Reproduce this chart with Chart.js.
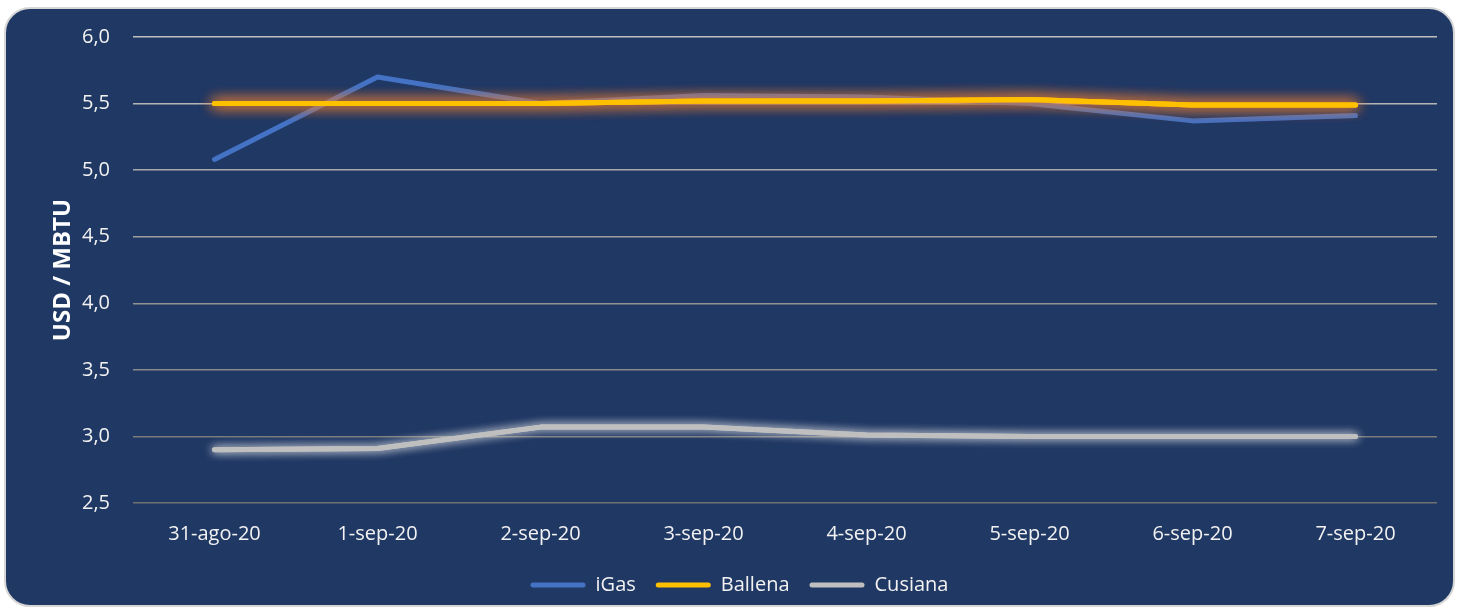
<!DOCTYPE html>
<html>
<head>
<meta charset="utf-8">
<script src="https://cdn.jsdelivr.net/npm/chart.js@4.4.1/dist/chart.umd.min.js"></script>
<style>
  html, body { margin: 0; padding: 0; background: #ffffff; width: 1460px; height: 611px; overflow: hidden; }
  #card { position: absolute; left: 4px; top: 7px; width: 1451px; height: 600px; background: #203864;
          border: 2px solid #d6d6d6; border-radius: 26px; box-sizing: border-box; }
  #wrap { position: absolute; left: 0; top: 0; width: 1460px; height: 611px; }
</style>
</head>
<body>
<div id="card"></div>
<div id="wrap"><canvas id="c" width="1460" height="611"></canvas></div>
<script>
const categories = ['31-ago-20', '1-sep-20', '2-sep-20', '3-sep-20', '4-sep-20', '5-sep-20', '6-sep-20', '7-sep-20'];
const iGas    = [5.08, 5.70, 5.50, 5.56, 5.55, 5.50, 5.37, 5.41];
const ballena = [5.50, 5.50, 5.50, 5.52, 5.52, 5.53, 5.49, 5.49];
const cusiana = [2.90, 2.91, 3.07, 3.07, 3.01, 3.00, 3.00, 3.00];
const yMin = 2.5, yMax = 6.0, yStep = 0.5;
const yTitle = 'USD / MBTU';

const FONT = "'Open Sans', 'Noto Sans', sans-serif";

const glowPlugin = {
  id: 'glow',
  beforeDatasetDraw(chart, args) {
    const ds = chart.data.datasets[args.index];
    const ctx = chart.ctx;
    ctx.save();
    if (ds.glowColor) {
      ctx.shadowColor = ds.glowColor;
      ctx.shadowBlur = ds.glowBlur || 10;
      ctx.shadowOffsetX = 0;
      ctx.shadowOffsetY = 0;
      // extra glow passes to intensify the halo
      for (let i = 1; i < (ds.glowPasses || 1); i++) {
        args.meta.controller.draw();
      }
    }
  },
  afterDatasetDraw(chart) {
    chart.ctx.restore();
  }
};

function gridColor(ctx) {
  const v = ctx.tick ? ctx.tick.value : yMin;
  const t = (v - yMin) / (yMax - yMin);
  const c = Math.round(112 + t * (192 - 112));
  return `rgb(${c},${c},${c})`;
}

new Chart(document.getElementById('c'), {
  type: 'line',
  data: {
    labels: categories,
    datasets: [
      { label: 'iGas', data: iGas, borderColor: '#4472C4', backgroundColor: '#4472C4', order: 3 },
      { label: 'Ballena', data: ballena, borderColor: '#FFC000', backgroundColor: '#FFC000', order: 2,
        glowColor: 'rgba(237,125,49,0.9)', glowBlur: 14, glowPasses: 3 },
      { label: 'Cusiana', data: cusiana, borderColor: '#BFBFBF', backgroundColor: '#BFBFBF', order: 1,
        glowColor: 'rgba(235,235,235,0.7)', glowBlur: 10, glowPasses: 2 }
    ]
  },
  options: {
    responsive: false,
    animation: false,
    devicePixelRatio: 1,
    datasets: {
      line: { borderWidth: 5, tension: 0, pointRadius: 0, pointHoverRadius: 0, fill: false,
              borderCapStyle: 'round', borderJoinStyle: 'round' }
    },
    layout: { padding: { left: 42, right: 23, top: 37, bottom: 6 } },
    scales: {
      x: {
        offset: true,
        grid: { display: false, drawTicks: false },
        border: { display: false },
        ticks: { color: '#F2F2F2', font: { family: FONT, size: 20 }, padding: 19, maxRotation: 0 },
        afterFit(s) { s.height = 52; }
      },
      y: {
        min: yMin, max: yMax,
        grid: { color: gridColor, lineWidth: 1.5, drawTicks: false },
        border: { display: false },
        ticks: { stepSize: yStep, color: '#F2F2F2', font: { family: FONT, size: 20 }, padding: 23,
                 callback: v => v.toFixed(1).replace('.', ',') },
        title: { display: true, text: yTitle, color: '#FFFFFF',
                 font: { family: FONT, size: 24, weight: 'bold' }, padding: { top: 7, bottom: 0 } },
        afterFit(s) { s.width = 91; }
      }
    },
    plugins: {
      tooltip: { enabled: false },
      legend: {
        position: 'bottom',
        labels: {
          color: '#F2F2F2', font: { family: FONT, size: 20 },
          boxWidth: 55, boxHeight: 5, padding: 20, useBorderRadius: true, borderRadius: 2.5,
          sort: (a, b) => a.datasetIndex - b.datasetIndex,
          generateLabels(chart) {
            const items = Chart.defaults.plugins.legend.labels.generateLabels(chart);
            items.forEach(it => { it.lineWidth = 0; it.fillStyle = it.strokeStyle; });
            return items;
          }
        }
      }
    }
  },
  plugins: [glowPlugin]
});
</script>
</body>
</html>
